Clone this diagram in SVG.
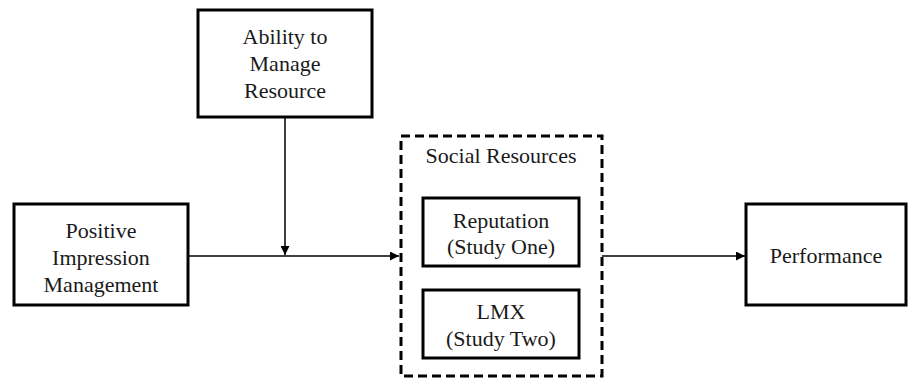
<svg xmlns="http://www.w3.org/2000/svg" width="919" height="379" viewBox="0 0 919 379">
<defs>
<style>
.box{fill:#fff;stroke:#000;stroke-width:3}
.dash{fill:none;stroke:#000;stroke-width:3;stroke-dasharray:9,5}
.t{font-family:"Liberation Serif",serif;font-size:22px;fill:#1a1a1a;text-anchor:middle}
.c{stroke:#000;stroke-width:1.5;fill:none}
</style>
<marker id="ah" viewBox="0 0 10 10" refX="10" refY="5" markerWidth="10" markerHeight="9" markerUnits="userSpaceOnUse" orient="auto">
<path d="M0,0 L10,5 L0,10 z" fill="#000"/>
</marker>
</defs>
<rect width="919" height="379" fill="#fff"/>
<g id="connectors">
<line class="c" x1="188" y1="256" x2="399" y2="256" marker-end="url(#ah)"/>
<line class="c" x1="285" y1="118" x2="285" y2="255" marker-end="url(#ah)"/>
<line class="c" x1="602" y1="256" x2="745" y2="256" marker-end="url(#ah)"/>
</g>
<g id="ability">
<rect class="box" x="198" y="10" width="174" height="107"/>
<text class="t" x="285" y="44">Ability to</text>
<text class="t" x="285" y="71">Manage</text>
<text class="t" x="285" y="98">Resource</text>
</g>
<g id="positive">
<rect class="box" x="14" y="204" width="174" height="101"/>
<text class="t" x="101" y="238">Positive</text>
<text class="t" x="101" y="265">Impression</text>
<text class="t" x="101" y="292">Management</text>
</g>
<g id="social">
<rect class="dash" x="401" y="136" width="201" height="240"/>
<text class="t" x="501" y="163">Social Resources</text>
</g>
<g id="reputation">
<rect class="box" x="423" y="198" width="156" height="68"/>
<text class="t" x="501" y="228">Reputation</text>
<text class="t" x="501" y="254">(Study One)</text>
</g>
<g id="lmx">
<rect class="box" x="423" y="290" width="156" height="68"/>
<text class="t" x="501" y="319">LMX</text>
<text class="t" x="501" y="346">(Study Two)</text>
</g>
<g id="performance">
<rect class="box" x="746" y="204" width="160" height="101"/>
<text class="t" x="826" y="263">Performance</text>
</g>
</svg>
